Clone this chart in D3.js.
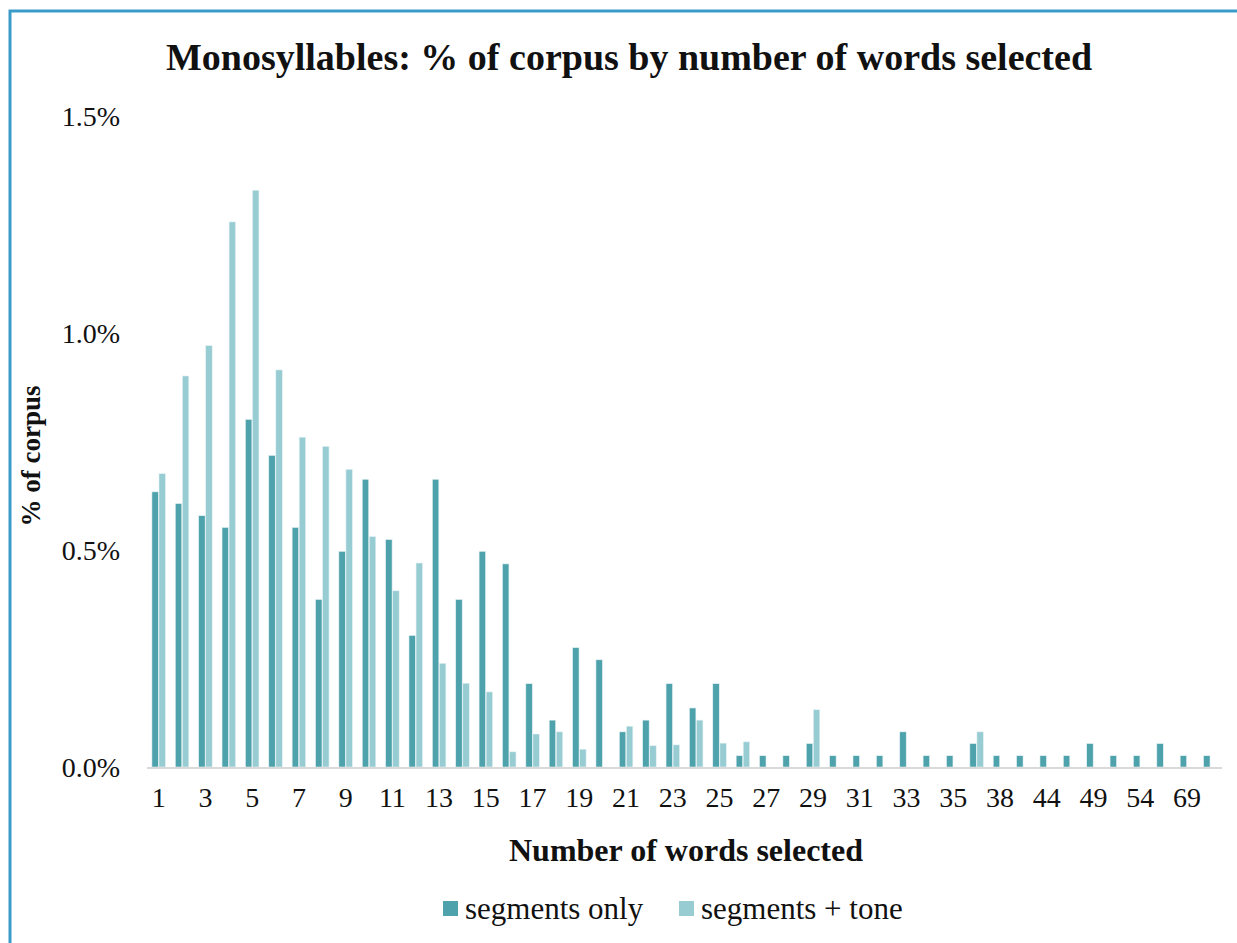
<!DOCTYPE html>
<html>
<head>
<meta charset="utf-8">
<script src="https://cdn.jsdelivr.net/npm/d3@7"></script>
<style>
    html, body { margin: 0; padding: 0; background: #fff; }
    svg text { font-family: "Liberation Serif", "Times New Roman", serif; fill: #111; }
    .tick-label { font-size: 28px; }
    .axis-title { font-size: 32px; font-weight: bold; }
    .axis-title.y { font-size: 27px; }
    .chart-title { font-size: 38px; font-weight: bold; }
    .legend-label { font-size: 31px; }
</style>
</head>
<body>
<svg id="chart" width="1237" height="943"></svg>
<script>
// Categories: number of words selected
const categories = [
    '1', '2', '3', '4', '5', '6', '7', '8', '9', '10',
    '11', '12', '13', '14', '15', '16', '17', '18', '19', '20',
    '21', '22', '23', '24', '25', '26', '27', '28', '29', '30',
    '31', '32', '33', '34', '35', '36', '38', '40', '44', '46',
    '49', '52', '54', '57', '69', '88'
];

// % of corpus, segments only
const segmentsOnly = [
    0.634, 0.607, 0.579, 0.552, 0.801, 0.718, 0.552, 0.386, 0.497, 0.663,
    0.524, 0.303, 0.663, 0.386, 0.497, 0.468, 0.192, 0.108, 0.275, 0.247,
    0.081, 0.108, 0.192, 0.136, 0.192, 0.026, 0.026, 0.026, 0.054, 0.026,
    0.026, 0.026, 0.081, 0.026, 0.026, 0.054, 0.026, 0.026, 0.026, 0.026,
    0.054, 0.026, 0.026, 0.054, 0.026, 0.026
];

// % of corpus, segments + tone
const segmentsTone = [
    0.676, 0.901, 0.971, 1.256, 1.329, 0.915, 0.760, 0.739, 0.686, 0.531,
    0.406, 0.470, 0.239, 0.193, 0.173, 0.035, 0.076, 0.081, 0.041, 0,
    0.094, 0.049, 0.051, 0.108, 0.055, 0.058, 0, 0, 0.132, 0,
    0, 0, 0, 0, 0, 0.081, 0, 0, 0, 0,
    0, 0, 0, 0, 0, 0
];

const seriesNames = ['segments only', 'segments + tone'];
const yTicks = [0, 0.5, 1.0, 1.5];

const colors = ['#4ea2ac', '#98ccd3'];

const svg = d3.select('#chart');

// Frame (card border, cropped on right and bottom)
svg.append('path')
    .attr('d', 'M10,950 L10,11 L1245,11')
    .attr('fill', 'none')
    .attr('stroke', '#3a9bc9')
    .attr('stroke-width', 3);

// Plot area
const plot = { left: 147, right: 1222, top: 116, bottom: 767 };

const x = d3.scaleBand()
    .domain(categories)
    .range([plot.left, plot.right])
    .paddingInner(0.42)
    .paddingOuter(0.21);

const xInner = d3.scaleBand()
    .domain(seriesNames)
    .range([0, x.bandwidth()])
    .paddingInner(0.08);

const y = d3.scaleLinear()
    .domain([0, 1.5])
    .range([plot.bottom, plot.top]);

// Build rows
const rows = categories.map((c, i) => ({
    cat: c,
    values: [
        { key: seriesNames[0], value: segmentsOnly[i] },
        { key: seriesNames[1], value: segmentsTone[i] }
    ]
}));

// Bars
const groups = svg.append('g')
    .attr('class', 'bars')
    .selectAll('g')
    .data(rows)
    .enter()
    .append('g')
    .attr('transform', d => `translate(${x(d.cat)},0)`);

groups.selectAll('rect')
    .data(d => d.values.filter(v => v.value > 0))
    .enter()
    .append('rect')
    .attr('x', d => xInner(d.key))
    .attr('y', d => y(d.value))
    .attr('width', xInner.bandwidth())
    .attr('height', d => y(0) - y(d.value))
    .attr('fill', d => colors[seriesNames.indexOf(d.key)])
    .attr('stroke', '#e6f2f4')
    .attr('stroke-width', 0.6);

// Baseline
svg.append('line')
    .attr('x1', plot.left)
    .attr('x2', plot.right)
    .attr('y1', y(0) + 1)
    .attr('y2', y(0) + 1)
    .attr('stroke', '#d9d9d9')
    .attr('stroke-width', 2);

// Y tick labels
const fmt = d3.format('.1%');
svg.append('g')
    .selectAll('text')
    .data(yTicks)
    .enter()
    .append('text')
    .attr('class', 'tick-label')
    .attr('x', 120)
    .attr('y', d => y(d))
    .attr('dy', '0.35em')
    .attr('text-anchor', 'end')
    .text(d => fmt(d / 100));

// X tick labels (every other category)
svg.append('g')
    .selectAll('text')
    .data(categories.filter((c, i) => i % 2 === 0))
    .enter()
    .append('text')
    .attr('class', 'tick-label')
    .attr('x', d => x(d) + x.bandwidth() / 2)
    .attr('y', 807)
    .attr('text-anchor', 'middle')
    .text(d => d);

// Titles
svg.append('text')
    .attr('class', 'chart-title')
    .attr('x', 629)
    .attr('y', 70)
    .attr('text-anchor', 'middle')
    .text('Monosyllables: % of corpus by number of words selected');

svg.append('text')
    .attr('class', 'axis-title')
    .attr('x', 686)
    .attr('y', 861)
    .attr('text-anchor', 'middle')
    .text('Number of words selected');

svg.append('text')
    .attr('class', 'axis-title y')
    .attr('transform', 'translate(40,456) rotate(-90)')
    .attr('text-anchor', 'middle')
    .text('% of corpus');

// Legend
const legend = svg.append('g').attr('class', 'legend');
const legendItems = [
    { name: seriesNames[0], x: 443 },
    { name: seriesNames[1], x: 679 }
];
legendItems.forEach((item, i) => {
    legend.append('rect')
        .attr('x', item.x)
        .attr('y', 901)
        .attr('width', 15)
        .attr('height', 15)
        .attr('fill', colors[i]);
    legend.append('text')
        .attr('class', 'legend-label')
        .attr('x', item.x + 22)
        .attr('y', 919)
        .text(item.name);
});
</script>
</body>
</html>
